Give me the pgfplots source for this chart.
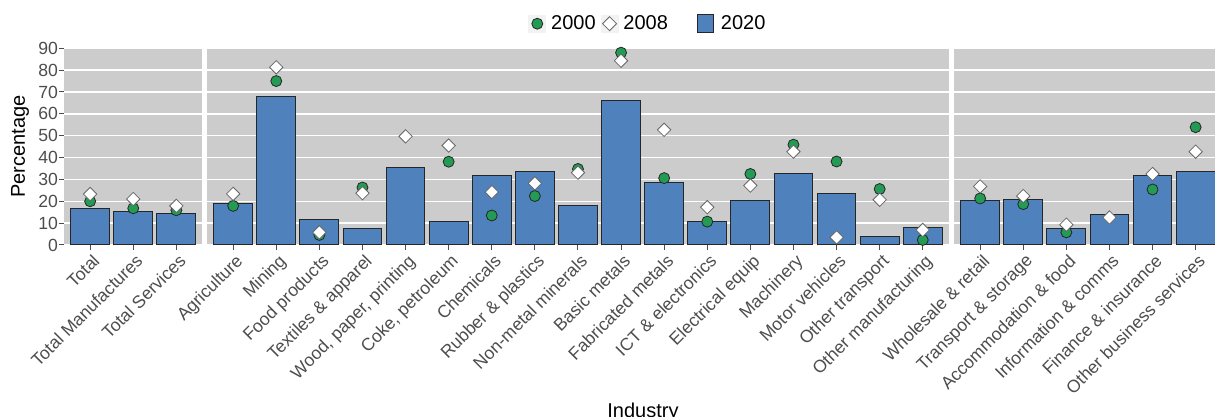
\documentclass[border=0pt]{standalone}
\usepackage{fontspec}
\setmainfont{Liberation Sans}
\usepackage{pgfplots}
\pgfplotsset{compat=1.18}

\definecolor{panelbg}{RGB}{204,204,204}
\definecolor{barblue}{RGB}{79,129,189}
\definecolor{dotgreen}{RGB}{35,155,85}
\definecolor{tickgrey}{RGB}{77,77,77}
\definecolor{keybg}{RGB}{242,242,242}

\pgfplotsset{
  panel/.style={
    scale only axis, height=98.35pt, anchor=south west,
    ymin=0, ymax=90, ytick={0,10,...,90},
    xmin=-0.6,
    enlargelimits=false, clip=false,
    axis background/.style={fill=panelbg},
    axis line style={draw=none},
    ymajorgrids, grid style={white, line width=0.7pt},
    tick align=outside, major tick length=2.5pt,
    tick style={tickgrey, line width=0.5pt},
    xtick pos=lower, ytick pos=left,
    xticklabel style={xshift=0.7pt, yshift=-1.35pt, rotate=45,
      anchor=north east, inner sep=0pt,
      font=\fontsize{8.8}{10}\selectfont, text=tickgrey},
    yticklabel style={anchor=east, inner sep=0pt, xshift=-0.5pt,
      font=\fontsize{8.8}{10}\selectfont, text=tickgrey},
    /pgf/number format/assume math mode=true,
  },
  bars/.style={ybar, bar width=0.9, fill=barblue, draw=black!85, line width=0.5pt, forget plot},
  dots/.style={only marks, mark=*, mark size=2.75pt,
    mark options={fill=dotgreen, draw=black!85, line width=0.4pt}, forget plot},
  dias/.style={only marks, mark=square*, mark size=2.36pt,
    mark options={rotate=45, fill=white, draw=black!60, line width=0.4pt}, forget plot},
}

\begin{document}
\begin{tikzpicture}
\useasboundingbox (0,0) rectangle (607.5pt,208.5pt);

% totals
\begin{axis}[panel, at={(32.15pt,86pt)}, width=68.96pt,
  xmax=2.6, xtick={0,1,2},
  xticklabels={Total, Total Manufactures, Total Services},
  ylabel={Percentage},
  every axis y label/.style={at={([xshift=-22.15pt]rel axis cs:0,0.5)},
    rotate=90, anchor=center, font=\fontsize{10}{12}\selectfont},
]
  \addplot[bars] coordinates {(0,16.5) (1,15.5) (2,14.5)};
  \addplot[dots] coordinates {(0,20.0) (1,16.8) (2,15.9)};
  \addplot[dias] coordinates {(0,23.3) (1,21.0) (2,17.9)};
\end{axis}

% manufacturing and primary industries
\begin{axis}[panel, at={(103.65pt,86pt)}, width=370.66pt,
  xmax=16.6, xtick={0,...,16},
  xticklabels={Agriculture, Mining, Food products, Textiles \& apparel,
    {Wood, paper, printing}, {Coke, petroleum}, Chemicals, Rubber \& plastics,
    Non-metal minerals, Basic metals, Fabricated metals, ICT \& electronics,
    Electrical equip, Machinery, Motor vehicles, Other transport,
    Other manufacturing},
  yticklabels={}, ytick style={draw=none},
  xlabel={Industry},
  xlabel style={at={(rel axis cs:0.5877,-0.8744)}, anchor=base,
    font=\fontsize{10}{12}\selectfont},
  legend columns=3,
  legend style={draw=none, fill=none, inner sep=0pt,
    at={(rel axis cs:0.4326,1.125)}, anchor=west,
    font=\fontsize{10}{12}\selectfont,
    nodes={inner sep=0pt},
    column sep=2.5pt,
    /tikz/column 4/.append style={column sep=14.3pt},
    /tikz/column 5/.append style={column sep=3.7pt}},
]
  \addplot[bars] coordinates {
    (0,19.0) (1,67.8) (2,11.8) (3,7.5) (4,35.4) (5,10.9) (6,32.0) (7,33.4)
    (8,17.9) (9,66.0) (10,28.8) (11,10.7) (12,20.5) (13,32.5) (14,23.7)
    (15,4.1) (16,7.9)};
  \addplot[dots] coordinates {
    (0,17.9) (1,75.0) (2,4.6) (3,26.3) (5,38.1) (6,13.5) (7,22.4)
    (8,34.8) (9,88.0) (10,30.6) (11,10.7) (12,32.5) (13,45.9) (14,38.2)
    (15,25.6) (16,2.3)};
  \addplot[dias] coordinates {
    (0,23.4) (1,81.3) (2,5.8) (3,23.7) (4,49.7) (5,45.5) (6,24.2) (7,28.2)
    (8,33.1) (9,84.3) (10,52.7) (11,17.3) (12,27.2) (13,42.7) (14,3.5)
    (15,20.7) (16,6.9)};
  \addlegendimage{legend image code/.code={
    \fill[keybg] (0pt,-4.25pt) rectangle (8.5pt,4.25pt);
    \draw[fill=dotgreen, draw=black!85, line width=0.4pt] (4.25pt,0pt) circle (2.75pt);}}
  \addlegendentry{2000}
  \addlegendimage{legend image code/.code={
    \fill[keybg] (0pt,-4.25pt) rectangle (8.5pt,4.25pt);
    \draw[fill=white, draw=black!60, line width=0.4pt]
      (4.25pt,-3.5pt) -- (7.75pt,0pt) -- (4.25pt,3.5pt) -- (0.75pt,0pt) -- cycle;}}
  \addlegendentry{2008}
  \addlegendimage{legend image code/.code={
    \draw[fill=barblue, draw=black!85, line width=0.5pt] (0pt,-4.5pt) rectangle (8pt,4.5pt);}}
  \addlegendentry{2020}
\end{axis}

% services
\begin{axis}[panel, at={(477.15pt,86pt)}, width=133.6pt,
  xmax=5.6, xtick={0,...,5},
  xticklabels={Wholesale \& retail, Transport \& storage, Accommodation \& food,
    Information \& comms, Finance \& insurance, Other business services},
  yticklabels={}, ytick style={draw=none},
]
  \addplot[bars] coordinates {(0,20.3) (1,20.7) (2,7.6) (3,13.8) (4,32.0) (5,33.4)};
  \addplot[dots] coordinates {(0,21.3) (1,18.7) (2,5.8) (4,25.4) (5,53.9)};
  \addplot[dias] coordinates {(0,26.8) (1,22.4) (2,9.3) (3,12.6) (4,32.5) (5,42.7)};
\end{axis}
\end{tikzpicture}
\end{document}
